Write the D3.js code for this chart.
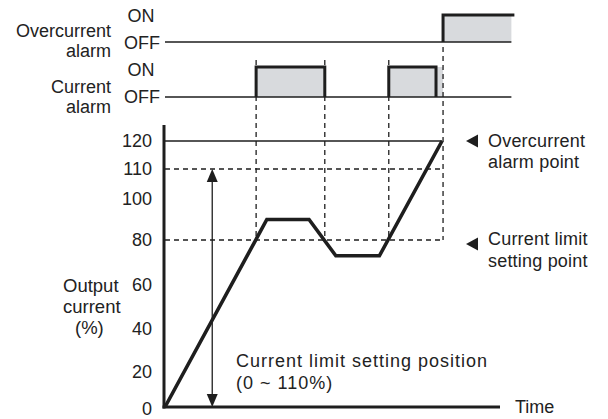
<!DOCTYPE html>
<html><head><meta charset="utf-8">
<script src="https://cdn.jsdelivr.net/npm/d3@7"></script>
<style>
body{margin:0;background:#fff;}
text{font-family:"Liberation Sans",Arial,Helvetica,sans-serif;fill:#222;}
</style></head>
<body><svg id="c" width="608" height="419"></svg>
<script>
// ---- data ----
const yTicks = [0, 20, 40, 60, 80, 100, 110, 120];
const curveT = [0, 30.4, 43, 51, 64, 82.7];
const curveI = [0, 90, 90, 73, 73, 120];
const overAlarmPoint = 120;
const limitMax = 110;
const limitPoint = 80;
const currentAlarmOn = [27.2, 66.8];
const currentAlarmOff = [47.7, 80.9];
const currentAlarmFillEnd = [47.7, 83.0];
const overAlarmOn = [83.0];
const overAlarmOff = [103.4];
const eventTimes = [27.2, 47.7, 66.8, 83.0];
const arrowT = 14.1;
const timeEnd = 100;
const signalEnd = 103.4;

// ---- scales ----
const svg = d3.select("#c");
const x = d3.scaleLinear().domain([0, 100]).range([165, 500]);
const y = d3.scaleLinear().domain(yTicks).range([407, 371.5, 328.5, 285, 240, 199, 169, 141]);
const ovY = d3.scaleLinear().domain([0, 1]).range([42, 15]);
const cuY = d3.scaleLinear().domain([0, 1]).range([97, 67]);
const ink = "#1e1e1e", grey = "#d8dadd";
const FS = "18px";

// ---- overcurrent alarm track ----
overAlarmOn.forEach((t0, i) => {
  svg.append("rect").attr("x", x(t0)).attr("y", ovY(1)).attr("width", x(overAlarmOff[i]) - x(t0))
    .attr("height", ovY(0) - ovY(1)).attr("fill", grey);
});
svg.append("line").attr("x1", x(0)).attr("x2", x(signalEnd)).attr("y1", ovY(0)).attr("y2", ovY(0))
  .attr("stroke", ink).attr("stroke-width", 1.5);
overAlarmOn.forEach((t0, i) => {
  svg.append("path").attr("d", `M${x(t0)},${ovY(0)}V${ovY(1)}H${x(overAlarmOff[i]) + 3}`)
    .attr("fill", "none").attr("stroke", ink).attr("stroke-width", 3);
});

// ---- current alarm track ----
currentAlarmOn.forEach((t0, i) => {
  svg.append("rect").attr("x", x(t0)).attr("y", cuY(1)).attr("width", x(currentAlarmFillEnd[i]) - x(t0))
    .attr("height", cuY(0) - cuY(1)).attr("fill", grey);
});
svg.append("line").attr("x1", x(0)).attr("x2", x(signalEnd)).attr("y1", cuY(0)).attr("y2", cuY(0))
  .attr("stroke", ink).attr("stroke-width", 1.5);
currentAlarmOn.forEach((t0, i) => {
  svg.append("path").attr("d", `M${x(t0)},${cuY(0)}V${cuY(1)}H${x(currentAlarmOff[i])}V${cuY(0)}`)
    .attr("fill", "none").attr("stroke", ink).attr("stroke-width", 3);
});

// ---- dashed event lines ----
eventTimes.forEach((t, i) => {
  const top = i === eventTimes.length - 1 ? ovY(0) + 5 : cuY(1) - 7;
  svg.append("line").attr("x1", x(t)).attr("x2", x(t)).attr("y1", top).attr("y2", y(limitPoint))
    .attr("stroke", ink).attr("stroke-width", 1.3).attr("stroke-dasharray", "5,4");
});

// ---- reference horizontals ----
const xr = x(curveT[curveT.length - 1]);
svg.append("line").attr("x1", x(0)).attr("x2", xr).attr("y1", y(overAlarmPoint)).attr("y2", y(overAlarmPoint))
  .attr("stroke", ink).attr("stroke-width", 1.3);
[limitMax, limitPoint].forEach(v => {
  svg.append("line").attr("x1", x(0)).attr("x2", xr).attr("y1", y(v)).attr("y2", y(v))
    .attr("stroke", ink).attr("stroke-width", 1.3).attr("stroke-dasharray", "5,4");
});

// ---- axes ----
const yAxis = d3.axisLeft(y).tickValues(yTicks).tickSize(0).tickPadding(13).tickFormat(d3.format("d"));
const ga = svg.append("g").attr("transform", `translate(${x(0)},0)`).call(yAxis);
ga.select(".domain").remove();
ga.selectAll("text").style("font-size", FS).attr("fill", "#222")
  .style("font-family", '"Liberation Sans",Arial,sans-serif');
ga.selectAll(".tick").filter(d => d === 0).select("text").attr("dy", "0.4em");
svg.append("line").attr("x1", x(0) - 1).attr("x2", x(0) - 1).attr("y1", y(120) - 16).attr("y2", y(0) + 1.5)
  .attr("stroke", ink).attr("stroke-width", 3);
svg.append("line").attr("x1", x(0) - 2.5).attr("x2", x(timeEnd)).attr("y1", y(0)).attr("y2", y(0))
  .attr("stroke", ink).attr("stroke-width", 3);

// ---- double arrow ----
const ax = x(arrowT);
svg.append("line").attr("x1", ax).attr("x2", ax).attr("y1", y(limitMax) + 10).attr("y2", y(0) - 10)
  .attr("stroke", ink).attr("stroke-width", 1.3);
svg.append("path").attr("d", `M${ax},${y(limitMax)}l-5.5,13h11z`).attr("fill", ink);
svg.append("path").attr("d", `M${ax},${y(0)}l-5.5,-13h11z`).attr("fill", ink);

// ---- current curve ----
const pts = curveT.map((t, i) => [t, curveI[i]]);
svg.append("path").datum(pts)
  .attr("d", d3.line().x(d => x(d[0])).y(d => y(d[1])))
  .attr("fill", "none").attr("stroke", ink).attr("stroke-width", 3.6).attr("stroke-linejoin", "miter");

// ---- text ----
function txt(s, tx, ty, anchor, size, ls) {
  return svg.append("text").attr("x", tx).attr("y", ty).attr("text-anchor", anchor || "start")
    .style("font-size", size || FS).style("letter-spacing", ls || "0px").text(s);
}
txt("Overcurrent", 111, 37, "end", "18px");
txt("alarm", 111, 57, "end", "18px");
txt("ON", 141, 22, "middle", "18px");
txt("OFF", 142, 49, "middle", "18px");
txt("Current", 111, 93, "end", "18px");
txt("alarm", 111, 113, "end", "18px");
txt("ON", 141, 76, "middle", "18px");
txt("OFF", 142, 103, "middle", "18px");

txt("Output", 63, 292, "start", "18.5px");
txt("current", 63, 313, "start", "18.5px");
txt("(%)", 75, 334, "start", "18.5px");

// right annotations
function tri(cy) {
  svg.append("path").attr("d", `M466,${cy}l12,-6.5v13z`).attr("fill", ink);
}
tri(y(overAlarmPoint));
txt("Overcurrent", 488, 147, "start", "18px", "0.2px");
txt("alarm point", 488, 168, "start", "18px", "0.2px");
tri(y(limitPoint) + 4);
txt("Current limit", 488, 245, "start", "18px", "0.2px");
txt("setting point", 488, 267, "start", "18px", "0.2px");

txt("Current limit setting position", 236, 367, "start", "18px", "1px");
txt("(0 ~ 110%)", 236, 389, "start", "18px", "1px");
txt("Time", 515, 413, "start", "18px");
</script></body></html>
